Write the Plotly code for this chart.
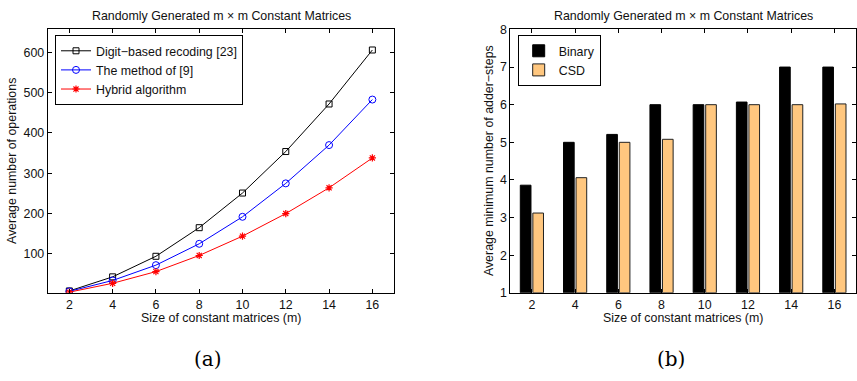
import plotly.graph_objects as go

m_sizes = [2, 4, 6, 8, 10, 12, 14, 16]
digit_based = [8, 43, 94, 165, 251, 354, 472, 606]
method9 = [7, 34, 72, 125, 192, 275, 370, 483]
hybrid = [5, 27, 56, 96, 144, 200, 264, 338]

binary_steps = [3.86, 5.0, 5.21, 6.0, 6.0, 6.07, 7.0, 7.0]
csd_steps = [3.12, 4.06, 5.0, 5.08, 6.0, 6.0, 6.0, 6.02]

title_text = "Randomly Generated m \u00d7 m Constant Matrices"
xlabel = "Size of constant matrices (m)"
ylabel_a = "Average number of operations"
ylabel_b = "Average minimum number of adder\u2212steps"

FONT = "Liberation Sans, Arial, sans-serif"
FS = 12.4

fig = go.Figure()
fig.add_trace(go.Scatter(x=m_sizes, y=digit_based, mode="lines+markers",
                         name="Digit\u2212based recoding [23]",
                         line=dict(color="black", width=1),
                         marker=dict(symbol="square-open", size=6, color="black", line=dict(width=1)),
                         xaxis="x", yaxis="y", legend="legend"))
fig.add_trace(go.Scatter(x=m_sizes, y=method9, mode="lines+markers",
                         name="The method of [9]",
                         line=dict(color="blue", width=1),
                         marker=dict(symbol="circle-open", size=7, color="blue", line=dict(width=1)),
                         xaxis="x", yaxis="y", legend="legend"))
fig.add_trace(go.Scatter(x=m_sizes, y=hybrid, mode="lines+markers",
                         name="Hybrid algorithm",
                         line=dict(color="red", width=1),
                         marker=dict(symbol="asterisk-open", size=6, color="red", line=dict(width=1.2, color="red")),
                         xaxis="x", yaxis="y", legend="legend"))

fig.add_trace(go.Bar(x=m_sizes, y=[v - 1 for v in binary_steps], base=1, name="Binary",
                     marker=dict(color="black", line=dict(color="black", width=1)),
                     xaxis="x2", yaxis="y2", legend="legend2"))
fig.add_trace(go.Bar(x=m_sizes, y=[v - 1 for v in csd_steps], base=1, name="CSD",
                     marker=dict(color="#FFC77F", line=dict(color="#222222", width=1)),
                     xaxis="x2", yaxis="y2", legend="legend2"))

ax_common = dict(showgrid=False, zeroline=False, showline=True, linecolor="black", linewidth=1,
                 mirror="allticks", ticks="inside", ticklen=4, tickcolor="black", tickwidth=1,
                 tickfont=dict(family=FONT, size=FS, color="#111111"))

yb = 1 - 296.7 / 381
yt = 1 - 23.3 / 381

fig.update_layout(
    width=857, height=381, margin=dict(l=0, r=0, t=0, b=0),
    paper_bgcolor="white", plot_bgcolor="white",
    barmode="group", bargap=0.42, bargroupgap=0.15,
    xaxis=dict(domain=[47.7 / 857, 394 / 857], range=[1, 17], tickvals=m_sizes, anchor="y", **ax_common),
    yaxis=dict(domain=[yb, yt], range=[3.4, 657], tickvals=[100, 200, 300, 400, 500, 600], anchor="x", **ax_common),
    xaxis2=dict(domain=[510.3 / 857, 856 / 857], range=[1, 17], tickvals=m_sizes, anchor="y2", **ax_common),
    yaxis2=dict(domain=[yb, yt], range=[1, 8], tickvals=[1, 2, 3, 4, 5, 6, 7, 8], anchor="x2", **ax_common),
    legend=dict(x=55 / 857, y=1 - 29.3 / 381, xanchor="left", yanchor="top",
                bordercolor="black", borderwidth=1, bgcolor="white",
                font=dict(family=FONT, size=FS, color="#111111"), tracegroupgap=0, itemwidth=30),
    legend2=dict(x=517.7 / 857, y=1 - 29.3 / 381, xanchor="left", yanchor="top",
                 bordercolor="black", borderwidth=1, bgcolor="white",
                 font=dict(family=FONT, size=FS, color="#111111"), tracegroupgap=0, itemwidth=30),
    showlegend=True,
)

ann_font = dict(family=FONT, size=FS, color="#111111")
anns = [
    dict(x=221 / 857, y=1 - 9 / 381, text=title_text, yanchor="middle"),
    dict(x=683 / 857, y=1 - 9 / 381, text=title_text, yanchor="middle"),
    dict(x=221 / 857, y=1 - 314 / 381, text=xlabel, yanchor="top"),
    dict(x=683 / 857, y=1 - 314 / 381, text=xlabel, yanchor="top"),
    dict(x=12 / 857, y=1 - 160 / 381, text=ylabel_a, textangle=-90, yanchor="middle"),
    dict(x=489 / 857, y=1 - 160 / 381, text=ylabel_b, textangle=-90, yanchor="middle"),
]
for a in anns:
    fig.add_annotation(xref="paper", yref="paper", xanchor="center",
                       showarrow=False, font=ann_font, **a)
for xc, t in [(208 / 857, "(a)"), (671 / 857, "(b)")]:
    fig.add_annotation(xref="paper", yref="paper", x=xc, y=1 - 365 / 381, text=t,
                       xanchor="center", yanchor="middle", showarrow=False,
                       font=dict(family="DejaVu Serif, Liberation Serif, serif", size=20, color="black"))

fig.write_html("out.html")
